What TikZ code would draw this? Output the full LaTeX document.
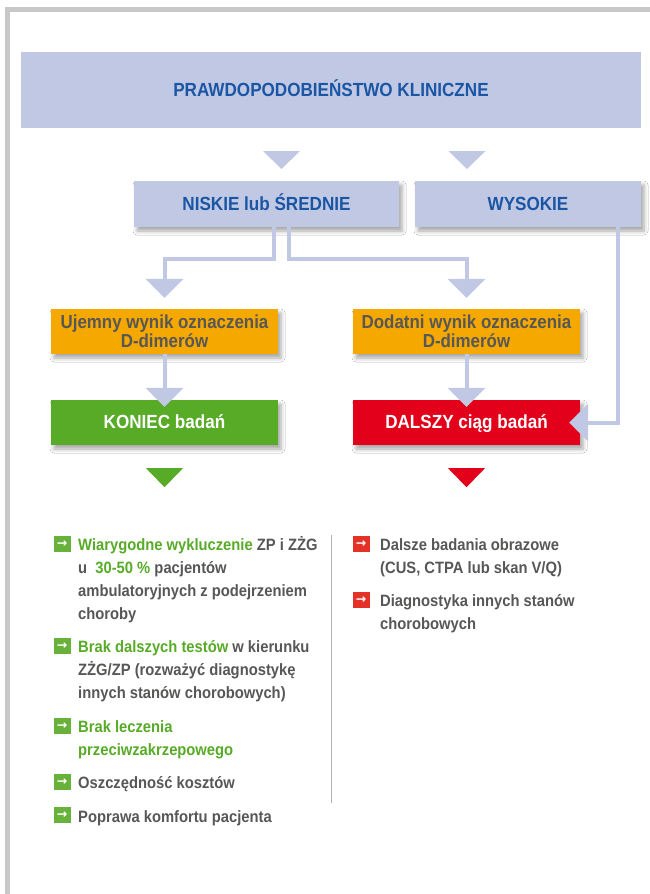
\documentclass[tikz,border=0pt]{standalone}
\usepackage{fontspec}
\setmainfont{Liberation Sans}[FakeStretch=0.9]
\newfontfamily\arrowfont{DejaVu Sans}
\usetikzlibrary{arrows.meta,shadows.blur,positioning}
\definecolor{lav}{RGB}{193,200,228}
\definecolor{navy}{RGB}{26,86,164}
\definecolor{amber}{RGB}{245,168,0}
\definecolor{ok}{RGB}{88,171,39}
\definecolor{okbox}{RGB}{104,178,60}
\definecolor{stop}{RGB}{226,0,26}
\definecolor{stopbox}{RGB}{228,50,40}
\definecolor{ink}{RGB}{87,87,86}
\definecolor{frame}{RGB}{200,200,200}

\begin{document}
\begin{tikzpicture}[x=1pt, y=-1pt,
  box/.style={rectangle, inner sep=0pt, align=center, font=\bfseries\fontsize{19}{19}\selectfont},
  one/.style={text height=14pt, text depth=2pt},
  lift/.style={blur shadow={shadow xshift=3pt, shadow yshift=-4pt, shadow blur radius=4pt, shadow opacity=35}},
  conn/.style={draw=lav, line width=4pt, -{Triangle[width=37pt, length=19pt]}},
  ico/.style={rectangle, fill=#1, minimum width=17pt, minimum height=16pt, inner sep=0pt, text=white, font=\arrowfont\bfseries\fontsize{12.5}{12.5}\selectfont},
  item/.style={anchor=base west, inner sep=0pt, align=left, text=ink, font=\bfseries\fontsize{16.4}{23}\selectfont}]
  \useasboundingbox (0,0) rectangle (650,894);
  \fill[white] (0,0) rectangle (650,894);
  \draw[frame, line width=5pt] (7.5,894) -- (7.5,9.5) -- (650,9.5);

  \node[box, one, fill=lav, text=navy, minimum width=620, minimum height=76] (prob) at (331,90) {PRAWDOPODOBIEŃSTWO KLINICZNE};
  \node[box, one, lift, fill=lav, text=navy, minimum width=265, minimum height=46] (niskie) at (266.5,204) {NISKIE lub ŚREDNIE};
  \node[box, one, lift, fill=lav, text=navy, minimum width=226, minimum height=46] (wysokie) at (528,204) {WYSOKIE};
  \node[box, lift, fill=amber, text=ink, minimum width=227, minimum height=45, font=\bfseries\fontsize{18.8}{19}\selectfont] (ujemny) at (164.5,331.5) {Ujemny wynik oznaczenia\\D-dimerów};
  \node[box, lift, fill=amber, text=ink, minimum width=227, minimum height=45, font=\bfseries\fontsize{18.8}{19}\selectfont] (dodatni) at (466.5,331.5) {Dodatni wynik oznaczenia\\D-dimerów};
  \node[box, one, lift, fill=ok, text=white, minimum width=227, minimum height=45] (koniec) at (164.5,422.5) {KONIEC badań};
  \node[box, one, lift, fill=stop, text=white, minimum width=227, minimum height=45] (dalszy) at (466.5,422.5) {DALSZY ciąg badań};

  \fill[lav] (263,151) -- ++(37,0) -- ++(-18.5,18) -- cycle;
  \fill[lav] (448.5,151) -- ++(37,0) -- ++(-18.5,18) -- cycle;
  \fill[ok] ([xshift=-18.5pt,yshift=-23pt]koniec.south) -- ++(37,0) -- ++(-18.5,19) -- cycle;
  \fill[stop] ([xshift=-18.5pt,yshift=-23pt]dalszy.south) -- ++(37,0) -- ++(-18.5,19) -- cycle;

  \draw[conn, shorten >=11pt] ([xshift=7.5pt]niskie.south) -- ++(0,31.5) -| (ujemny.north);
  \draw[conn, shorten >=11pt] ([xshift=22.5pt]niskie.south) -- ++(0,31.5) -| (dodatni.north);
  \draw[conn] ([xshift=90pt]wysokie.south) |- ([xshift=-11pt]dalszy.east);
  \draw[conn, shorten >=-7pt] (ujemny) -- (koniec);
  \draw[conn, shorten >=-7pt] (dodatni) -- (dalszy);

  \draw[gray!60, line width=1pt] (331,535) -- (331,803);

  \node[ico=okbox] (g1) at (62,544) {→};
  \node[item] (t1) at (78,619) {\textcolor{ok}{Wiarygodne wykluczenie} ZP i ZŻG\\u\ \ \textcolor{ok}{30-50 \%} pacjentów\\ambulatoryjnych z podejrzeniem\\choroby};
  \node[ico=okbox] (g2) at (62,646) {→};
  \node[item] (t2) at (78,698) {\textcolor{ok}{Brak dalszych testów} w kierunku\\ZŻG/ZP (rozważyć diagnostykę\\innych stanów chorobowych)};
  \node[ico=okbox] (g3) at (62,726) {→};
  \node[item, text=ok] (t3) at (78,755) {Brak leczenia\\przeciwzakrzepowego};
  \node[ico=okbox] (g4) at (62,782) {→};
  \node[item] (t4) at (78,788) {Oszczędność kosztów};
  \node[ico=okbox] (g5) at (62,815) {→};
  \node[item] (t5) at (78,822) {Poprawa komfortu pacjenta};
  \node[ico=stopbox] (r1) at (361,544) {→};
  \node[item] (u1) at (380,573) {Dalsze badania obrazowe\\(CUS, CTPA lub skan V/Q)};
  \node[ico=stopbox] (r2) at (361,600) {→};
  \node[item] (u2) at (380,629) {Diagnostyka innych stanów\\chorobowych};
\end{tikzpicture}
\end{document}
